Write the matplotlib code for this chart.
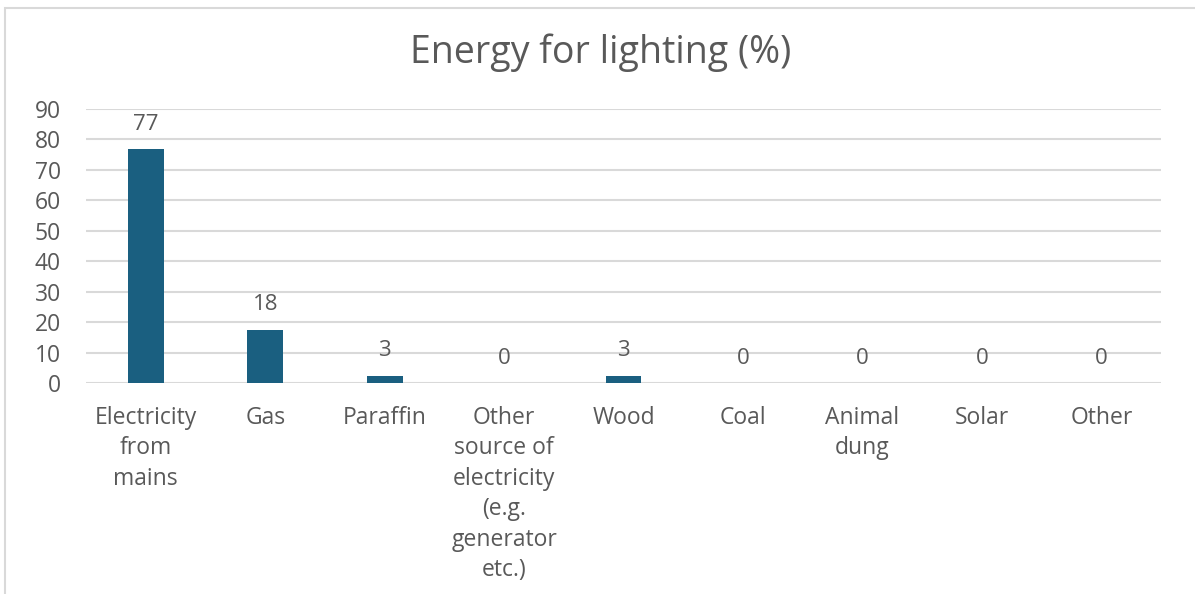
import matplotlib
matplotlib.use("Agg")
import matplotlib.pyplot as plt
from matplotlib.patches import Rectangle

categories = ["Electricity\nfrom\nmains", "Gas", "Paraffin",
              "Other\nsource of\nelectricity\n(e.g.\ngenerator\netc.)",
              "Wood", "Coal", "Animal\ndung", "Solar", "Other"]
values = [76.6, 17.6, 2.6, 0, 2.6, 0, 0, 0, 0]
yticks = [0, 10, 20, 30, 40, 50, 60, 70, 80, 90]

bar_color = "#1a5f80"
text_color = "#595959"
grid_color = "#d9d9d9"

plt.rcParams['font.family'] = ['Open Sans', 'DejaVu Sans']

fig = plt.figure(figsize=(11.95, 5.94), dpi=100)
ax = fig.add_axes([0.072, 0.3544, 0.8996, 0.4629])

x = range(len(categories))
bars = ax.bar(x, values, width=0.30, color=bar_color, zorder=3)

for xi, v in zip(x, values):
    ax.annotate(f"{v:.0f}", (xi, v), xytext=(0, 18), textcoords="offset points",
                ha="center", va="center", fontsize=16, color=text_color)

ax.set_xlim(-0.5, len(categories) - 0.5)
ax.set_ylim(0, 90)
ax.set_yticks(yticks)
ax.set_xticks(list(x))
ax.set_xticklabels(categories, linespacing=1.36, va="top", fontsize=16.5)
ax.tick_params(axis="both", length=0, labelcolor=text_color)
ax.tick_params(axis="y", labelsize=16.5, pad=18)
ax.tick_params(axis="x", pad=16)
ax.yaxis.grid(True, color=grid_color, linewidth=1.5, zorder=0)
for s in ax.spines.values():
    s.set_visible(False)

fig.text(0.503, 0.911, "Energy for lighting (%)", ha="center", va="center",
         fontsize=27, color=text_color)

# chart frame
fig.patches.append(Rectangle((5 / 1195, -0.1), 1.2, 1 - 8 / 594 + 0.1,
                             transform=fig.transFigure, fill=False,
                             edgecolor="#d9d9d9", linewidth=1.5))

fig.savefig("out.png", dpi=100, facecolor="white")
